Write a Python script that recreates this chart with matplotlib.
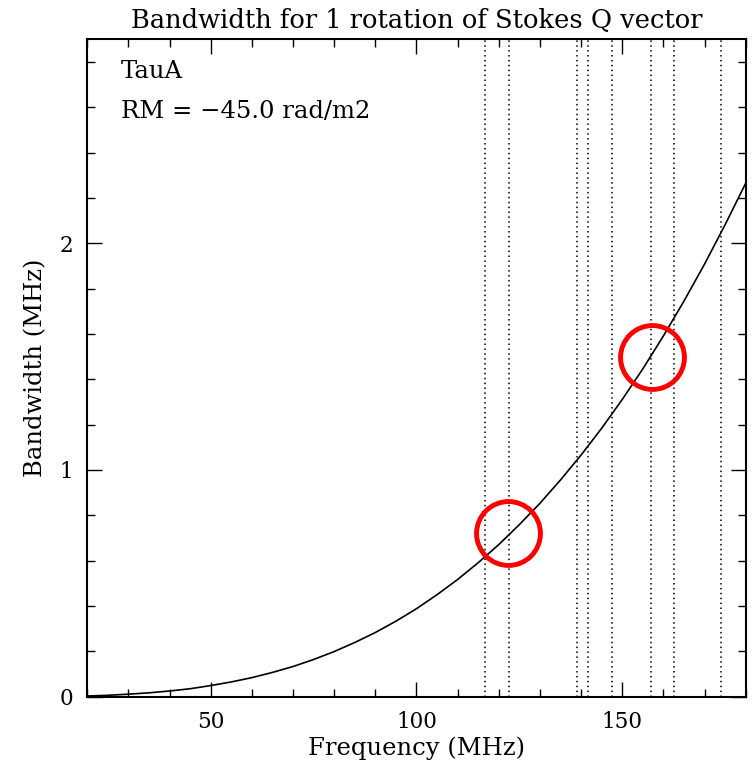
import matplotlib
matplotlib.use("Agg")
import matplotlib.pyplot as plt
from matplotlib.ticker import MultipleLocator

# Bandwidth curve (MHz vs MHz)
freq = [20, 25, 30, 35, 40, 45, 50, 55, 60, 65, 70, 75, 80, 85, 90, 95,
        100, 105, 110, 115, 120, 125, 130, 135, 140, 145, 150, 155, 160,
        165, 170, 175, 180]
bandwidth = [0.003, 0.006, 0.011, 0.017, 0.025, 0.035, 0.049, 0.065, 0.084,
             0.107, 0.133, 0.164, 0.199, 0.239, 0.283, 0.333, 0.388, 0.450,
             0.517, 0.591, 0.671, 0.759, 0.853, 0.956, 1.066, 1.184, 1.311,
             1.446, 1.591, 1.745, 1.908, 2.082, 2.265]

# dotted frequency markers
marker_freqs = [116.7, 122.6, 139.1, 141.8, 147.6, 157.1, 162.6, 173.9]

# red highlight circles
circle_x = [122.2, 157.2]
circle_y = [0.724, 1.500]

source = "TauA"
rm_label = "RM = \u221245.0 rad/m2"

plt.rcParams['font.family'] = ['DejaVu Serif']

fig = plt.figure(figsize=(7.52, 7.67), dpi=100)
ax = fig.add_axes([0.1161, 0.0917, 0.8755, 0.8571])

for f in marker_freqs:
    ax.axvline(f, color='black', lw=1.1, linestyle=(0, (1, 2.2)), zorder=1)

ax.plot(freq, bandwidth, color='black', lw=1.2, zorder=2)

ax.plot(circle_x, circle_y, linestyle='none', marker='o', markersize=46,
        markerfacecolor='none', markeredgecolor='#ff0000', markeredgewidth=3.5,
        zorder=3)

ax.set_xlim(20, 180)
ax.set_ylim(0, 2.9)
ax.xaxis.set_major_locator(MultipleLocator(50))
ax.xaxis.set_minor_locator(MultipleLocator(10))
ax.yaxis.set_major_locator(MultipleLocator(1))
ax.yaxis.set_minor_locator(MultipleLocator(0.2))

ax.tick_params(which='both', direction='in', top=True, right=True,
               labelsize=15.5, width=1.0)
ax.tick_params(axis='x', which='both', pad=10)
ax.tick_params(axis='y', which='both', pad=10)
ax.tick_params(which='major', length=11)
ax.tick_params(which='minor', length=5.5)
for s in ax.spines.values():
    s.set_linewidth(1.5)

ax.set_title("Bandwidth for 1 rotation of Stokes Q vector", fontsize=18.5, pad=8)
ax.set_xlabel("Frequency (MHz)", fontsize=17.5, labelpad=3)
ax.set_ylabel("Bandwidth (MHz)", fontsize=17.5, labelpad=9)

ax.text(0.051, 0.951, source, transform=ax.transAxes, fontsize=17.5,
        ha='left', va='center')
ax.text(0.051, 0.890, rm_label, transform=ax.transAxes, fontsize=17.5,
        ha='left', va='center')

fig.savefig("out.png", dpi=100)
